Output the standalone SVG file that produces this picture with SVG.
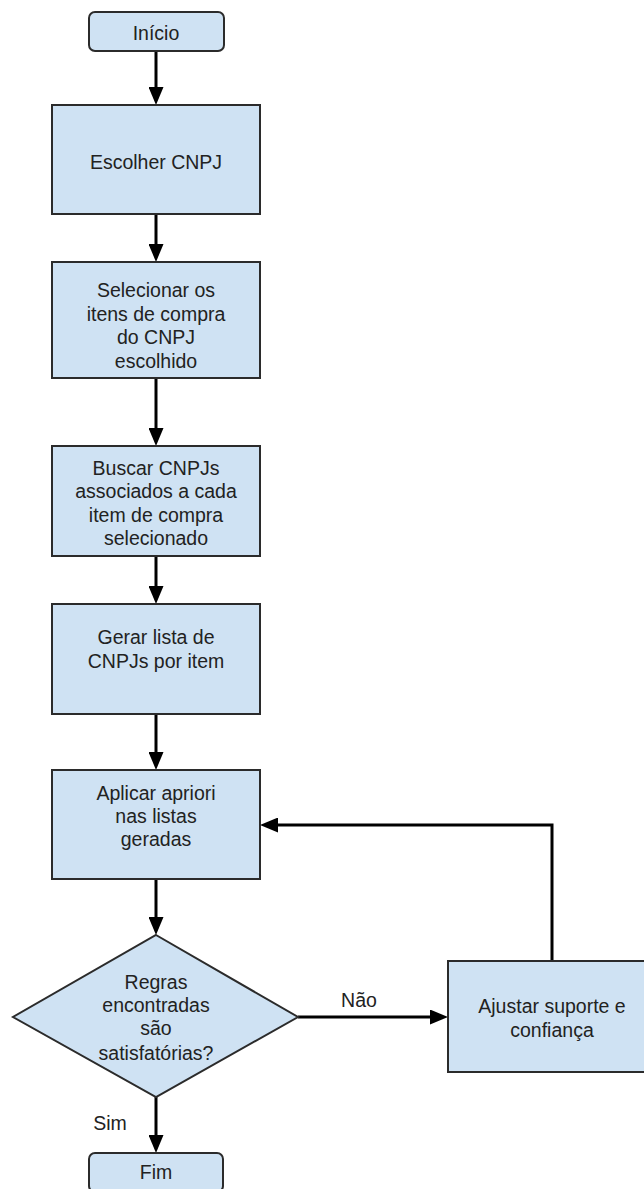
<svg xmlns="http://www.w3.org/2000/svg" width="644" height="1189" viewBox="0 0 644 1189">
<style>
.n{fill:#cfe2f3;stroke:#2b2b2b;stroke-width:2}
.t{font-family:"Liberation Sans",Arial,sans-serif;font-size:19.5px;fill:#222;text-anchor:middle}
.c{fill:none;stroke:#000;stroke-width:3}
</style>
<defs>
<marker id="ah" markerUnits="userSpaceOnUse" viewBox="0 0 18 15" markerWidth="18" markerHeight="15" refX="1" refY="7.5" orient="auto">
<path d="M0,0 L18,7.5 L0,15 z" fill="#000"/>
</marker>
</defs>
<rect width="644" height="1189" fill="#fff"/>
<g id="connectors">
<path class="c" d="M156,51 V88" marker-end="url(#ah)"/>
<path class="c" d="M156,214 V245" marker-end="url(#ah)"/>
<path class="c" d="M156,378 V429" marker-end="url(#ah)"/>
<path class="c" d="M156,556 V587" marker-end="url(#ah)"/>
<path class="c" d="M156,714 V753" marker-end="url(#ah)"/>
<path class="c" d="M156,879 V918" marker-end="url(#ah)"/>
<path class="c" d="M298,1017 H431" marker-end="url(#ah)"/>
<path class="c" d="M156,1097 V1136" marker-end="url(#ah)"/>
<path class="c" d="M552,961 V825 H277" marker-end="url(#ah)"/>
<text class="t" x="359" y="1007">Não</text>
<text class="t" x="110" y="1130">Sim</text>
</g>
<g id="inicio">
<rect class="n" x="89" y="12" width="135" height="39" rx="6"/>
<text class="t" x="156" y="40">Início</text>
</g>
<g id="escolher">
<rect class="n" x="52" y="105" width="208" height="109"/>
<text class="t" x="156" y="169">Escolher CNPJ</text>
</g>
<g id="selecionar">
<rect class="n" x="52" y="262" width="208" height="116"/>
<text class="t" x="156" y="297">Selecionar os</text>
<text class="t" x="156" y="321">itens de compra</text>
<text class="t" x="156" y="344">do CNPJ</text>
<text class="t" x="156" y="368">escolhido</text>
</g>
<g id="buscar">
<rect class="n" x="52" y="446" width="208" height="110"/>
<text class="t" x="156" y="475">Buscar CNPJs</text>
<text class="t" x="156" y="498">associados a cada</text>
<text class="t" x="156" y="522">item de compra</text>
<text class="t" x="156" y="545">selecionado</text>
</g>
<g id="gerar">
<rect class="n" x="52" y="604" width="208" height="110"/>
<text class="t" x="156" y="644">Gerar lista de</text>
<text class="t" x="156" y="668">CNPJs por item</text>
</g>
<g id="aplicar">
<rect class="n" x="52" y="770" width="208" height="109"/>
<text class="t" x="156" y="800">Aplicar apriori</text>
<text class="t" x="156" y="823">nas listas</text>
<text class="t" x="156" y="846">geradas</text>
</g>
<g id="decisao">
<polygon class="n" points="156,935 298,1017 156,1097 13,1017"/>
<text class="t" x="156" y="989">Regras</text>
<text class="t" x="156" y="1012">encontradas</text>
<text class="t" x="156" y="1035">são</text>
<text class="t" x="156" y="1060">satisfatórias?</text>
</g>
<g id="ajustar">
<rect class="n" x="448" y="961" width="208" height="111"/>
<text class="t" x="552" y="1013">Ajustar suporte e</text>
<text class="t" x="552" y="1037">confiança</text>
</g>
<g id="fim">
<rect class="n" x="89" y="1153" width="134" height="39" rx="6"/>
<text class="t" x="156" y="1179">Fim</text>
</g>
</svg>
